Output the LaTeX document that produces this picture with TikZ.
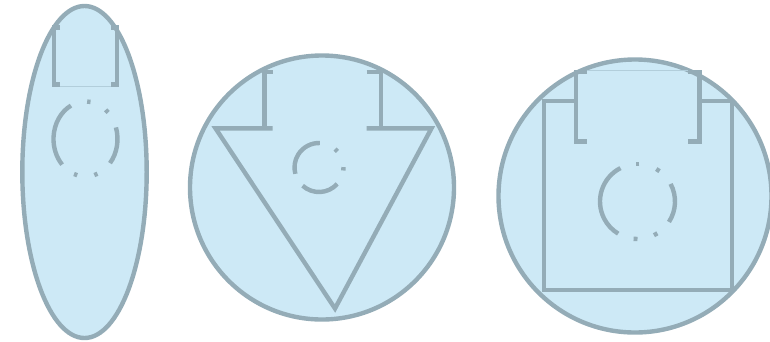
\documentclass[tikz,border=0pt]{standalone}
\usepackage{tikz}
\definecolor{rimgray}{RGB}{148,172,183}
\definecolor{paleblue}{RGB}{205,233,246}
\definecolor{seamblue}{RGB}{178,206,219}

\begin{document}
\begin{tikzpicture}[x=1pt,y=-1pt,
  shell/.style={fill=paleblue,draw=rimgray,line width=4.4pt},
  rim/.style={draw=rimgray,line width=4.4pt},
  seam/.style={draw=seamblue,line width=0.7pt}]
  \useasboundingbox (0,0) rectangle (770,341);
  \coordinate (E) at (84.5,172);
  \coordinate (Ed) at (85.5,139);
  \draw[shell] (E) ellipse[x radius=62.2,y radius=166];
  \draw[rim] (60,27.5) -- (53.8,27.5) -- (53.8,84.5) -- (60,84.5);
  \draw[rim] (111,27.5) -- (117.2,27.5) -- (117.2,84.5) -- (111,84.5);
  \draw[seam] (60,86.3) -- (111,86.3);
  \foreach \a/\b in {117/223,249/255,286/292,320/378,45/51,81/87}
    \draw[rim] (Ed) ++(-\a:32 and 37.5) arc[start angle=-\a,end angle=-\b,x radius=32,y radius=37.5];

  \coordinate (C) at (322,187.5);
  \coordinate (Cd) at (319,167.5);
  \draw[shell] (C) circle[radius=132];
  \draw[rim] (272.7,128.3) -- (215.5,128.3) -- (335,308.5) -- (431.5,128.3) -- (366.7,128.3);
  \draw[rim] (272.7,72) -- (264.5,72) -- (264.5,128.3);
  \draw[rim] (366.7,72) -- (381.2,72) -- (381.2,128.3);
  \foreach \a/\b in {88/195,228/318,41/49,353/361}
    \draw[rim] (Cd) ++(-\a:24.5) arc[start angle=-\a,end angle=-\b,radius=24.5];

  \coordinate (R) at (635,196);
  \coordinate (Rd) at (637.5,201.5);
  \draw[shell] (R) circle[radius=136.5];
  \draw[rim] (576,101.2) -- (543.8,101.2) -- (543.8,289.8) -- (732.2,289.8) -- (732.2,101.2) -- (699.3,101.2);
  \draw[rim] (587,72) -- (576,72) -- (576,141.5) -- (587,141.5);
  \draw[rim] (688,72) -- (699.3,72) -- (699.3,141.5) -- (688,141.5);
  \draw[seam] (587,70.7) -- (688,70.7);
  \foreach \a/\b in {117/239,264/270,296/302,327/388,54/60,87/93}
    \draw[rim] (Rd) ++(-\a:37.5) arc[start angle=-\a,end angle=-\b,radius=37.5];
\end{tikzpicture}
\end{document}
